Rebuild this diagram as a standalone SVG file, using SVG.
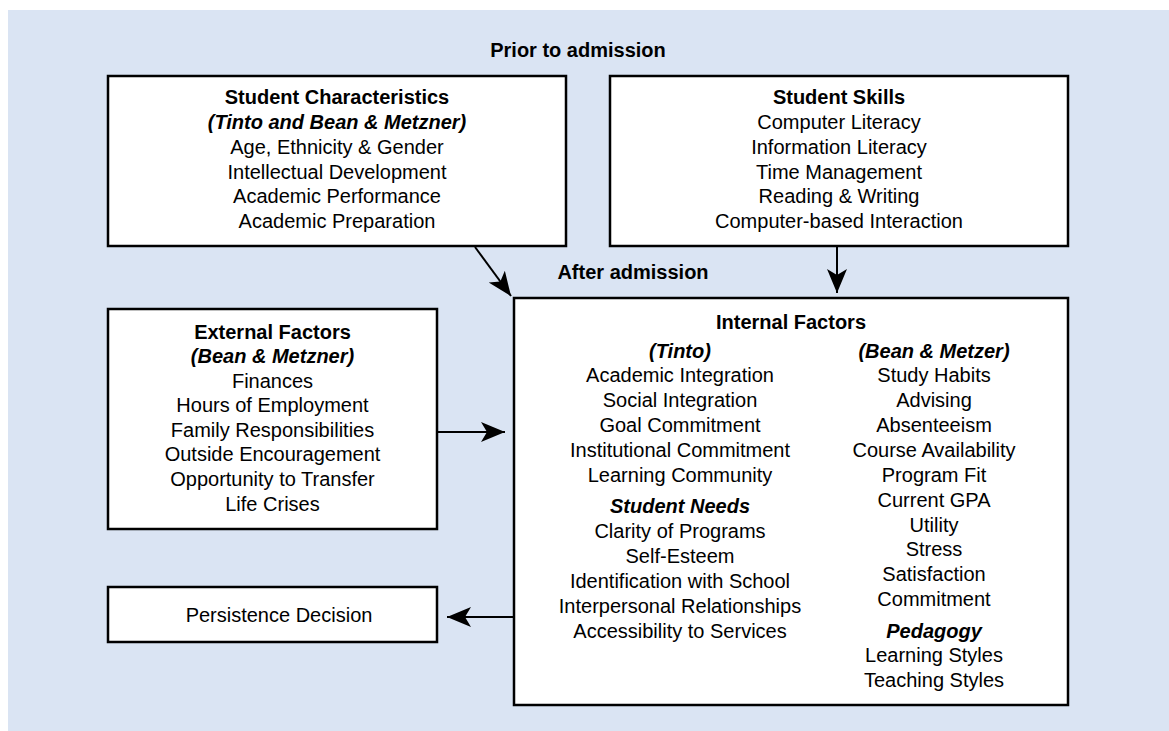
<svg xmlns="http://www.w3.org/2000/svg" width="1169" height="731" viewBox="0 0 1169 731">
<style>
text{font-family:"Liberation Sans",Arial,sans-serif;font-size:20px;fill:#000;text-anchor:middle}
.b{font-weight:bold}
.bi{font-weight:bold;font-style:italic}
.box{fill:#fff;stroke:#000;stroke-width:2.5}
.con{stroke:#000;stroke-width:2;fill:none}
</style>
<defs>
<marker id="ah" markerUnits="userSpaceOnUse" markerWidth="26" markerHeight="22" refX="24" refY="11" orient="auto">
<path d="M0,1 L24,11 L0,21 L6,11 z" fill="#000"/>
</marker>
</defs>
<rect x="8" y="10" width="1161" height="721" fill="#dae4f3"/>
<text class="b" x="578" y="57">Prior to admission</text>
<text class="b" x="633" y="279">After admission</text>

<g id="student-characteristics">
<rect class="box" x="108" y="76" width="458" height="170"/>
<text class="b" x="337" y="104">Student Characteristics</text>
<text class="bi" x="337" y="129">(Tinto and Bean &amp; Metzner)</text>
<text x="337" y="154">Age, Ethnicity &amp; Gender</text>
<text x="337" y="179">Intellectual Development</text>
<text x="337" y="203">Academic Performance</text>
<text x="337" y="228">Academic Preparation</text>
</g>

<g id="student-skills">
<rect class="box" x="610" y="76" width="458" height="170"/>
<text class="b" x="839" y="104">Student Skills</text>
<text x="839" y="129">Computer Literacy</text>
<text x="839" y="154">Information Literacy</text>
<text x="839" y="179">Time Management</text>
<text x="839" y="203">Reading &amp; Writing</text>
<text x="839" y="228">Computer-based Interaction</text>
</g>

<g id="external-factors">
<rect class="box" x="108" y="309" width="329" height="220"/>
<text class="b" x="272.5" y="339">External Factors</text>
<text class="bi" x="272.5" y="363">(Bean &amp; Metzner)</text>
<text x="272.5" y="388">Finances</text>
<text x="272.5" y="412">Hours of Employment</text>
<text x="272.5" y="437">Family Responsibilities</text>
<text x="272.5" y="461">Outside Encouragement</text>
<text x="272.5" y="486">Opportunity to Transfer</text>
<text x="272.5" y="511">Life Crises</text>
</g>

<g id="persistence-decision">
<rect class="box" x="108" y="587" width="329" height="55"/>
<text x="279" y="622">Persistence Decision</text>
</g>

<g id="internal-factors">
<rect class="box" x="514" y="298" width="554" height="407"/>
<text class="b" x="791" y="329">Internal Factors</text>
<text class="bi" x="680" y="358">(Tinto)</text>
<text x="680" y="382">Academic Integration</text>
<text x="680" y="407">Social Integration</text>
<text x="680" y="432">Goal Commitment</text>
<text x="680" y="457">Institutional Commitment</text>
<text x="680" y="482">Learning Community</text>
<text class="bi" x="680" y="513">Student Needs</text>
<text x="680" y="538">Clarity of Programs</text>
<text x="680" y="563">Self-Esteem</text>
<text x="680" y="588">Identification with School</text>
<text x="680" y="613">Interpersonal Relationships</text>
<text x="680" y="638">Accessibility to Services</text>
<text class="bi" x="934" y="358">(Bean &amp; Metzer)</text>
<text x="934" y="382">Study Habits</text>
<text x="934" y="407">Advising</text>
<text x="934" y="432">Absenteeism</text>
<text x="934" y="457">Course Availability</text>
<text x="934" y="482">Program Fit</text>
<text x="934" y="507">Current GPA</text>
<text x="934" y="532">Utility</text>
<text x="934" y="556">Stress</text>
<text x="934" y="581">Satisfaction</text>
<text x="934" y="606">Commitment</text>
<text class="bi" x="934" y="638">Pedagogy</text>
<text x="934" y="662">Learning Styles</text>
<text x="934" y="687">Teaching Styles</text>
</g>

<g id="connectors">
<line class="con" x1="475" y1="247" x2="511" y2="296" marker-end="url(#ah)"/>
<line class="con" x1="837" y1="247" x2="837" y2="293" marker-end="url(#ah)"/>
<line class="con" x1="437" y1="432" x2="505" y2="432" marker-end="url(#ah)"/>
<line class="con" x1="513" y1="617" x2="447" y2="617" marker-end="url(#ah)"/>
</g>
</svg>
